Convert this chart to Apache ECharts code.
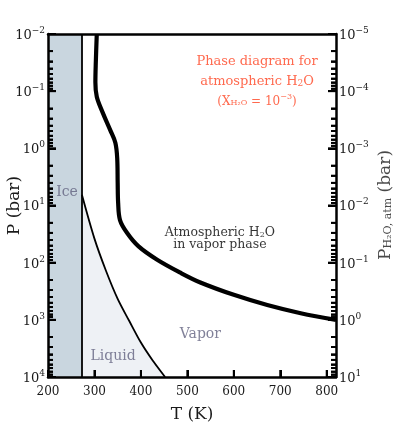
<!DOCTYPE html>
<html>
<head>
<meta charset="utf-8">
<script src="https://cdn.jsdelivr.net/npm/echarts@6/dist/echarts.min.js"></script>
<style>
  html, body { margin: 0; padding: 0; background: #fff; }
  #chart { width: 399px; height: 430px; }
</style>
</head>
<body>
<div id="chart"></div>
<script>
// axis ranges
const tRange = [200, 820];
const pRange = [1e-2, 1e4];
const pH2oRange = [1e-5, 1e1];

// melting temperature of ice (K)
const meltT = 273;

// liquid / vapor boundary, [T (K), P (bar)]
const satCurve = [
  [273, 6.5], [300, 38], [325, 140], [350, 430], [375, 1050],
  [400, 2500], [425, 5100], [450, 9500], [452, 10000]
];

// atmospheric H2O vapor phase boundary, [T (K), P (bar)]
const vaporLine = [
  [305, 0.01], [303, 0.03], [302, 0.07], [305, 0.125], [318, 0.24],
  [334, 0.48], [345, 0.8], [349, 1.5], [350, 4], [351, 9],
  [355, 18], [370, 30], [395, 52], [435, 89], [485, 150],
  [528, 222], [600, 365], [672, 550], [744, 765], [820, 1000]
];

// tick positions
const xTickT = [300, 400, 500, 600, 700, 800];
const majorP = [1e-2, 1e-1, 1, 1e1, 1e2, 1e3, 1e4];
const minorMult = [2, 3, 4, 5, 6, 7, 8, 9];

// annotation texts (rich markup) and their anchors in [T, P]
const noteText = [
  '{t|Phase diagram for}',
  '{t|atmospheric H}{ts|2}{t|O}',
  '{u|(X}{us|H\u2082O}{u| = 10}{up|\u22123}{u|)}',
  '{a|Atmospheric H}{as|2}{a|O}',
  '{a|in vapor phase}',
  '{p|Ice}',
  '{p|Liquid}',
  '{p|Vapor}',
  '{n|P}{ns|H\u2082O, atm}{n| (bar)}'
];
const noteAt = [
  [650, 0.031], [650, 0.068], [650, 0.145],
  [570, 30], [570, 49],
  [241, 6.0], [340, 4300], [528, 1770],
  [926, 9.8]
];

const font = 'DejaVu Serif';
const ink = '#1a1a1a';
const red = '#ff4422';
const grey = '#62627f';

// tick marks: [T, P, kind] 0 left major, 1 right major, 2 left minor, 3 right minor, 4 bottom
const tickData = [];
majorP.forEach(p => { tickData.push([tRange[0], p, 0]); tickData.push([tRange[1], p, 1]); });
majorP.slice(0, -1).forEach(d => minorMult.forEach(m => {
  tickData.push([tRange[0], m * d, 2]);
  tickData.push([tRange[1], m * d, 3]);
}));
xTickT.forEach(t => tickData.push([t, pRange[1], 4]));

const powRich = {
  b: { fontFamily: font, fontSize: 13, color: ink, verticalAlign: 'bottom' },
  s: { fontFamily: font, fontSize: 9, color: ink, verticalAlign: 'bottom', padding: [0, 0, 7, 0] }
};
function powLabel(v) {
  const e = Math.round(Math.log10(v));
  return '{b|10}{s|' + (e < 0 ? '\u2212' + (-e) : e) + '}';
}

function logAxis(range, pos) {
  const ax = {
    type: 'log',
    logBase: 10,
    min: range[0],
    max: range[1],
    inverse: true,
    position: pos,
    z: 10,
    axisLine: { show: true, lineStyle: { color: '#000', width: 2.5 } },
    axisTick: { show: true, inside: true, length: 8, lineStyle: { color: '#000', width: 2 } },
    minorTick: { show: true, splitNumber: 9, length: 5, lineStyle: { color: '#000', width: 1.8 } },
    splitLine: { show: false },
    axisLabel: { formatter: powLabel, rich: powRich, margin: 3 }
  };
  if (pos === 'left') {
    Object.assign(ax, {
      name: 'P (bar)',
      nameLocation: 'middle',
      nameRotate: 90,
      nameMoveOverlap: false,
      nameGap: 25,
      nameTextStyle: { fontFamily: font, fontSize: 17, color: ink }
    });
  }
  return ax;
}

const chart = echarts.init(document.getElementById('chart'));

chart.setOption({
  animation: false,
  grid: { left: 48, right: 63, top: 34, bottom: 53, outerBoundsMode: 'none' },
  xAxis: [
    {
      type: 'value',
      min: tRange[0],
      max: tRange[1],
      interval: 100,
      z: 10,
      name: 'T (K)',
      nameLocation: 'middle',
      nameMoveOverlap: false,
      nameGap: 29,
      nameTextStyle: { fontFamily: font, fontSize: 17, color: ink },
      axisLine: { show: true, lineStyle: { color: '#000', width: 2.5 } },
      axisTick: { show: true, inside: true, length: 7, lineStyle: { color: '#000', width: 2 } },
      splitLine: { show: false },
      axisLabel: { fontFamily: font, fontSize: 12, color: ink, margin: 9, showMaxLabel: false }
    },
    {
      // top frame edge
      type: 'value',
      position: 'top',
      min: tRange[0],
      max: tRange[1],
      z: 10,
      axisLine: { show: true, lineStyle: { color: '#000', width: 2.5 } },
      axisTick: { show: false },
      axisLabel: { show: false },
      splitLine: { show: false }
    }
  ],
  yAxis: [
    logAxis(pRange, 'left'),
    logAxis(pH2oRange, 'right')
  ],
  series: [
    {
      // ice field + melting line
      type: 'line',
      data: [],
      silent: true,
      markArea: {
        silent: true,
        itemStyle: { color: '#c9d6df' },
        data: [[{ xAxis: tRange[0] }, { xAxis: meltT }]]
      },
      markLine: {
        silent: true,
        symbol: ['none', 'none'],
        label: { show: false },
        lineStyle: { color: '#000', width: 1.8, type: 'solid' },
        data: [{ xAxis: meltT }]
      }
    },
    {
      type: 'line',
      data: satCurve,
      smooth: 0.3,
      showSymbol: false,
      lineStyle: { color: '#000', width: 1.8 },
      areaStyle: { color: '#eef1f5', origin: 'end', opacity: 1 }
    },
    {
      type: 'line',
      data: vaporLine,
      smooth: 0.35,
      showSymbol: false,
      lineStyle: { color: '#000', width: 4.2 }
    },
    {
      // inward tick marks, placed through the axes' scales
      type: 'custom',
      silent: true,
      clip: false,
      z: 12,
      data: tickData,
      renderItem: function (params, api) {
        const pt = api.coord([api.value(0), api.value(1)]);
        const kind = api.value(2);
        let dx = 0, dy = 0, w = 2;
        if (kind === 0) dx = 8;
        else if (kind === 1) dx = -8;
        else if (kind === 2) { dx = 5; w = 1.8; }
        else if (kind === 3) { dx = -5; w = 1.8; }
        else dy = -7;
        return {
          type: 'line',
          shape: { x1: pt[0], y1: pt[1], x2: pt[0] + dx, y2: pt[1] + dy },
          style: { stroke: '#000', lineWidth: w }
        };
      }
    },
    {
      // text annotations
      type: 'scatter',
      silent: true,
      clip: false,
      z: 20,
      symbolSize: 0.1,
      itemStyle: { color: 'rgba(0,0,0,0)' },
      data: noteAt.map((c, i) => (i === noteAt.length - 1
        ? { value: c, label: { rotate: 90 } }
        : { value: c })),
      label: {
        show: true,
        position: 'inside',
        formatter: p => noteText[p.dataIndex],
        rich: {
          t: { fontFamily: font, fontSize: 13, color: red, verticalAlign: 'bottom' },
          ts: { fontFamily: font, fontSize: 9, color: red, verticalAlign: 'bottom', padding: [5, 0, 0, 0] },
          u: { fontFamily: font, fontSize: 12, color: red, verticalAlign: 'bottom' },
          us: { fontFamily: font, fontSize: 8, color: red, verticalAlign: 'bottom', padding: [4, 0, 0, 0] },
          up: { fontFamily: font, fontSize: 8, color: red, verticalAlign: 'bottom', padding: [0, 0, 6, 0] },
          a: { fontFamily: font, fontSize: 12.5, color: '#000', verticalAlign: 'bottom' },
          as: { fontFamily: font, fontSize: 8, color: '#000', verticalAlign: 'bottom', padding: [4, 0, 0, 0] },
          p: { fontFamily: font, fontSize: 14, color: grey },
          n: { fontFamily: font, fontSize: 17, color: ink, verticalAlign: 'bottom' },
          ns: { fontFamily: font, fontSize: 11, color: ink, verticalAlign: 'bottom', padding: [6, 0, 0, 0] }
        }
      }
    }
  ]
});
</script>
</body>
</html>
